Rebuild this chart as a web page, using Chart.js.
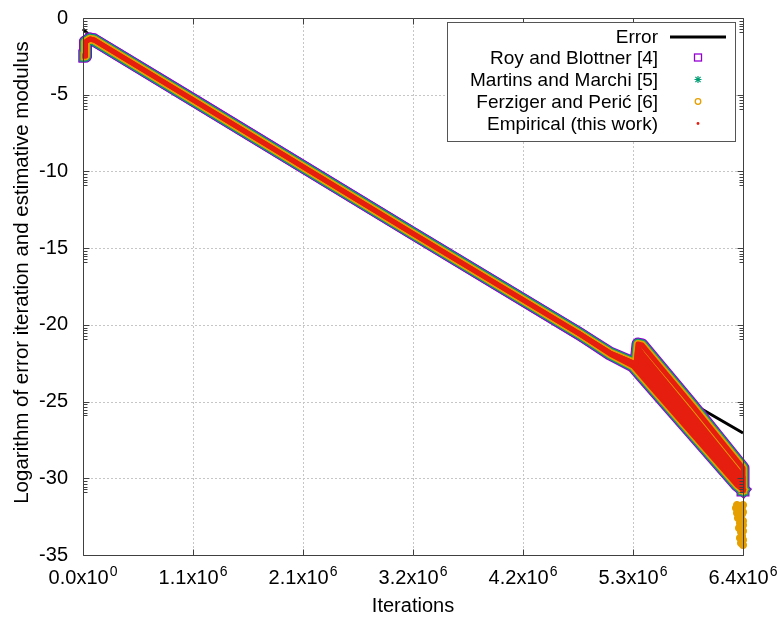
<!DOCTYPE html>
<html>
<head>
<meta charset="utf-8">
<script src="https://cdn.jsdelivr.net/npm/chart.js@4.4.1/dist/chart.umd.min.js"></script>
<style>
  html, body { margin: 0; padding: 0; background: #fff; }
  #wrap { width: 780px; height: 619px; }
</style>
</head>
<body>
<div id="wrap"><canvas id="c" width="780" height="619"></canvas></div>
<script>
// Iterations / log10 |error| readings
const errorIter = [0, 106000, 4789000, 5329000, 5878000, 6360000];
const errorLog  = [-0.72, -1.43, -20.60, -22.45, -25.16, -27.05];

// Shared trace of the estimates until they start to oscillate
const leadIter = [19300, 24100, 67500, 106000, 1060000, 3180000, 4789000];
const leadLog  = [-2.48, -1.56, -1.37, -1.43, -5.34, -14.05, -20.60];

// Upper and lower envelope of the estimates after the split
const upperIter = [5078000, 5329000, 5348000, 5387000, 5878000, 6360000, 6360000];
const upperLog  = [-21.83, -22.55, -21.25, -21.31, -25.29, -29.33, -30.76];
const lowerIter = [5078000, 5300000, 5493000, 6302000, 6360000];
const lowerLog  = [-21.90, -22.68, -24.18, -30.44, -30.76];

// Dense part of the empirical estimate (below its upper branch)
const coreIter = [4789000, 5078000, 5329000, 5348000, 5387000, 5878000, 6360000, 6360000];
const coreLog  = [-20.60, -21.83, -22.55, -21.46, -21.85, -25.89, -29.93, -30.76];

// Last Ferziger and Perić estimates, falling below the band
const ferzigerTailIter = [6292500, 6302200, 6321500, 6331100, 6350400, 6360000, 6302200, 6331100, 6360000,
                          6311800, 6321500, 6340700, 6350400, 6360000, 6331100, 6340700, 6360000,
                          6331100, 6350400, 6321500, 6340700, 6360000, 6350400, 6331100, 6360000,
                          6340700, 6350400, 6360000];
const ferzigerTailLog  = [-31.94, -31.74, -31.81, -31.94, -31.87, -31.74, -32.26, -32.13, -32.20,
                          -32.59, -32.39, -32.52, -32.33, -32.78, -32.91, -32.98, -33.05,
                          -33.17, -33.10, -33.24, -33.50, -33.44, -33.76, -33.89, -34.02,
                          -34.22, -34.09, -34.35];

// Axis ticks
const xTickValues    = [0, 1060000, 2120000, 3180000, 4240000, 5300000, 6360000];
const xTickMantissas = ['0.0', '1.1', '2.1', '3.2', '4.2', '5.3', '6.4'];
const xTickExponents = ['0', '6', '6', '6', '6', '6', '6'];

const seriesNames = ['Error', 'Roy and Blottner [4]', 'Martins and Marchi [5]', 'Ferziger and Perić [6]', 'Empirical (this work)'];
const yTitle = 'Logarithm of error iteration and estimative modulus';

const COLORS = { error: '#000000', roy: '#9400d3', martins: '#009e73', ferziger: '#e69f00', empirical: '#e51e10' };
const FONT = "'Liberation Sans', Arial, sans-serif";

function pts(xs, ys) { return xs.map((v, i) => ({ x: v, y: ys[i] })); }

const upperPath = pts(leadIter.concat(upperIter), leadLog.concat(upperLog));
const lowerPath = pts(leadIter.concat(lowerIter), leadLog.concat(lowerLog));

function band(color, width, order, fillTo) {
  return {
    showLine: true, data: upperPath, borderColor: color, backgroundColor: color,
    borderWidth: width, pointRadius: 0, borderJoinStyle: 'round', borderCapStyle: 'square',
    fill: fillTo === null ? false : fillTo, order: order, clip: false
  };
}
function bandLower(color, width, order) {
  return {
    showLine: true, data: lowerPath, borderColor: color, backgroundColor: color,
    borderWidth: width, pointRadius: 0, borderJoinStyle: 'round', borderCapStyle: 'square',
    fill: false, order: order, clip: false
  };
}

const datasets = [
  // 0
  { label: seriesNames[0], showLine: true, data: pts(errorIter, errorLog), borderColor: COLORS.error,
    borderWidth: 3, pointRadius: 0, fill: false, order: 10, clip: false },
  // 1,2
  Object.assign(band(COLORS.roy, 13, 9, 2), { label: seriesNames[1] }),
  bandLower(COLORS.roy, 13, 9),
  // 3,4
  Object.assign(band(COLORS.martins, 11, 8, 4), { label: seriesNames[2] }),
  bandLower(COLORS.martins, 11, 8),
  // 5,6
  Object.assign(band(COLORS.ferziger, 8.5, 7, 6), { label: seriesNames[3] }),
  bandLower(COLORS.ferziger, 8.5, 7),
  // 7
  { showLine: false, data: pts(ferzigerTailIter, ferzigerTailLog), pointRadius: 3.6, pointStyle: 'circle',
    pointBackgroundColor: COLORS.ferziger, pointBorderColor: COLORS.ferziger, pointBorderWidth: 1,
    order: 7, clip: false },
  // 8 upper branch of the empirical estimate
  Object.assign(band(COLORS.empirical, 5, 6, null), { label: seriesNames[4] }),
  // 9 dense part, filled down to 10
  { showLine: true, data: pts(coreIter, coreLog), borderColor: COLORS.empirical, backgroundColor: COLORS.empirical,
    borderWidth: 5, pointRadius: 0, borderJoinStyle: 'round', borderCapStyle: 'square', fill: 10, order: 6, clip: false },
  // 10
  bandLower(COLORS.empirical, 5, 6)
];

const frame = {
  id: 'frame',
  beforeDatasetsDraw(chart) {
    const { ctx, chartArea: a, scales: { x, y } } = chart;
    ctx.save();
    ctx.strokeStyle = '#c6c6c6';
    ctx.lineWidth = 1;
    ctx.setLineDash([2, 2]);
    ctx.beginPath();
    x.ticks.forEach(t => {
      const px = Math.round(x.getPixelForValue(t.value)) + 0.5;
      if (px > a.left + 2 && px < a.right - 2) { ctx.moveTo(px, a.top); ctx.lineTo(px, a.bottom); }
    });
    y.ticks.forEach(t => {
      const py = Math.round(y.getPixelForValue(t.value)) + 0.5;
      if (py > a.top + 2 && py < a.bottom - 2) { ctx.moveTo(a.left, py); ctx.lineTo(a.right, py); }
    });
    ctx.stroke();
    ctx.restore();
  },
  afterDatasetsDraw(chart) {
    const { ctx, chartArea: a, scales: { x, y } } = chart;
    const L = Math.round(a.left) + 0.5, R = Math.round(a.right) + 0.5, T = Math.round(a.top) + 0.5, B = Math.round(a.bottom) + 0.5;
    ctx.save();
    ctx.strokeStyle = '#404040';
    ctx.lineWidth = 1;
    ctx.beginPath();
    ctx.rect(L, T, R - L, B - T);
    // major ticks on x (bottom and top)
    x.ticks.forEach(t => {
      const px = Math.round(x.getPixelForValue(t.value)) + 0.5;
      ctx.moveTo(px, B); ctx.lineTo(px, B - 6);
      ctx.moveTo(px, T); ctx.lineTo(px, T + 6);
    });
    // major and minor ticks on y (left and right)
    y.ticks.forEach(t => {
      const py = Math.round(y.getPixelForValue(t.value)) + 0.5;
      ctx.moveTo(L, py); ctx.lineTo(L + 6, py);
      ctx.moveTo(R, py); ctx.lineTo(R - 6, py);
      for (let k = 1; k <= 5; k++) {
        const v = t.value - 0.18 * k;
        if (v < y.min) break;
        const pm = Math.round(y.getPixelForValue(v)) + 0.5;
        ctx.moveTo(L, pm); ctx.lineTo(L + 4, pm);
        ctx.moveTo(R, pm); ctx.lineTo(R - 4, pm);
      }
    });
    ctx.stroke();

    // x tick labels with powers of ten
    ctx.fillStyle = '#000';
    ctx.textAlign = 'left';
    ctx.textBaseline = 'alphabetic';
    x.ticks.forEach((t, i) => {
      const px = x.getPixelForValue(t.value);
      const main = xTickMantissas[i] + 'x10';
      const sup = xTickExponents[i];
      ctx.font = '20px ' + FONT;
      const wm = ctx.measureText(main).width;
      ctx.font = '14px ' + FONT;
      const ws = ctx.measureText(sup).width;
      const left = px - (wm + ws + 1) / 2;
      ctx.font = '20px ' + FONT;
      ctx.fillText(main, left, B + 28);
      ctx.font = '14px ' + FONT;
      ctx.fillText(sup, left + wm + 1, B + 20);
    });

    // y axis title
    ctx.save();
    ctx.translate(22, (a.top + a.bottom) / 2 - 14);
    ctx.rotate(-Math.PI / 2);
    ctx.font = '20.5px ' + FONT;
    ctx.textAlign = 'center';
    ctx.textBaseline = 'middle';
    ctx.fillText(yTitle, 0, 0);
    ctx.restore();

    // key
    const bx = Math.round(a.right) - 296 + 0.5, by = T + 4, bw = 288, bh = 119;
    ctx.fillStyle = '#fff';
    ctx.fillRect(bx, by, bw, bh);
    ctx.strokeStyle = '#555';
    ctx.strokeRect(bx, by, bw, bh);
    const textRight = Math.round(a.right) - 85;
    const rows = [37, 57.5, 79.5, 101.5, 123.5].map(v => v - 18 + a.top);
    ctx.font = '19px ' + FONT;
    ctx.textAlign = 'right';
    ctx.textBaseline = 'middle';
    ctx.fillStyle = '#000';
    seriesNames.forEach((n, i) => ctx.fillText(n, textRight, rows[i] + 1));
    const mx = Math.round(a.right) - 45;
    // Error sample line
    ctx.strokeStyle = COLORS.error; ctx.lineWidth = 3;
    ctx.beginPath(); ctx.moveTo(mx - 28, rows[0]); ctx.lineTo(mx + 28, rows[0]); ctx.stroke();
    // square
    ctx.strokeStyle = COLORS.roy; ctx.lineWidth = 1.3;
    ctx.strokeRect(mx - 3.5, rows[1] - 3.5, 7, 7);
    // asterisk
    ctx.strokeStyle = COLORS.martins; ctx.lineWidth = 1.2;
    ctx.beginPath();
    ctx.moveTo(mx - 3.5, rows[2]); ctx.lineTo(mx + 3.5, rows[2]);
    ctx.moveTo(mx, rows[2] - 3.5); ctx.lineTo(mx, rows[2] + 3.5);
    ctx.moveTo(mx - 2.6, rows[2] - 2.6); ctx.lineTo(mx + 2.6, rows[2] + 2.6);
    ctx.moveTo(mx - 2.6, rows[2] + 2.6); ctx.lineTo(mx + 2.6, rows[2] - 2.6);
    ctx.stroke();
    // circle
    ctx.strokeStyle = COLORS.ferziger; ctx.lineWidth = 1.3;
    ctx.beginPath(); ctx.arc(mx, rows[3], 2.8, 0, Math.PI * 2); ctx.stroke();
    // dot
    ctx.fillStyle = COLORS.empirical;
    ctx.beginPath(); ctx.arc(mx, rows[4], 1.4, 0, Math.PI * 2); ctx.fill();
    ctx.restore();
  }
};

new Chart(document.getElementById('c'), {
  type: 'scatter',
  data: { datasets },
  options: {
    responsive: false,
    animation: false,
    layout: { padding: { top: 18, right: 37, left: 0, bottom: 0 } },
    plugins: { legend: { display: false }, tooltip: { enabled: false } },
    scales: {
      x: {
        type: 'linear', min: 0, max: 6360000,
        afterBuildTicks: s => { s.ticks = xTickValues.map(v => ({ value: v })); },
        afterFit: s => { s.height = 64; s.paddingLeft = 0; s.paddingRight = 0; },
        ticks: { display: false },
        grid: { display: false },
        border: { display: false },
        title: { display: true, text: 'Iterations', color: '#000',
                 font: { family: FONT, size: 20 }, padding: { top: 0, bottom: 1 } }
      },
      y: {
        type: 'linear', min: -35, max: 0,
        ticks: { stepSize: 5, color: '#000', padding: 15, font: { family: FONT, size: 20 } },
        afterFit: s => { s.width = 83; s.paddingTop = 0; s.paddingBottom = 0; },
        grid: { display: false, drawTicks: false },
        border: { display: false }
      }
    }
  },
  plugins: [frame]
});
</script>
</body>
</html>
